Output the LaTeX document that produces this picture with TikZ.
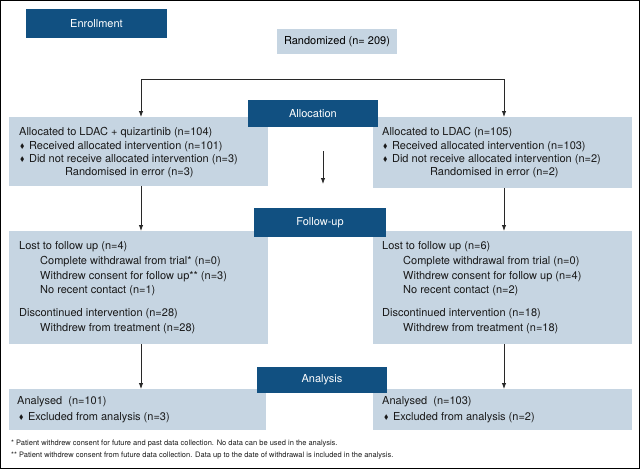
\documentclass[tikz,border=0pt]{standalone}
\usepackage{fontspec}
\usepackage{amssymb}
\usepackage{graphicx}
\setmainfont{TeX Gyre Heros}
\usetikzlibrary{arrows.meta}
\definecolor{hdrblue}{RGB}{17,80,129}
\definecolor{boxgrey}{RGB}{198,213,226}
\definecolor{linegrey}{RGB}{40,40,40}
\newcommand{\dia}{\raisebox{0.2ex}{\scalebox{0.6}{$\blacklozenge$}}\hspace{4.5pt}}
\tikzset{
  lbox/.style={fill=boxgrey, draw=none, inner sep=0pt, outer sep=0pt, anchor=north west},
  hbox/.style={fill=hdrblue, draw=none, inner sep=0pt, outer sep=0pt, text=white,
    font=\fontsize{11}{13}\selectfont},
  txt/.style={inner sep=0pt, anchor=west, font=\fontsize{11}{13}\selectfont, text=black!90},
  fnote/.style={inner sep=0pt, anchor=west, font=\fontsize{7.5}{9}\selectfont, text=black!90},
  arr/.style={draw=linegrey, line width=0.8pt, -{Latex[length=6pt,width=4.4pt]}},
  conn/.style={draw=linegrey, line width=0.8pt}
}
\begin{document}
\begin{tikzpicture}[x=1pt,y=-1pt]
\useasboundingbox (0,0) rectangle (640,469);
\fill[white] (0,0) rectangle (640,469);
\draw[line width=1.2pt] (0.6,0.6) rectangle (639.4,468.4);

% light boxes
\node[lbox, minimum width=120pt, minimum height=25pt] (rand) at (277,29) {};
\node[inner sep=0pt, font=\fontsize{11}{13}\selectfont] (randt) at (rand.center) {Randomized (n= 209)};

\node[lbox, minimum width=259pt, minimum height=69pt] (a1) at (9,117) {};
\node[lbox, minimum width=259pt, minimum height=71pt] (a2) at (373,117) {};
\node[lbox, minimum width=259pt, minimum height=113pt] (f1) at (9,231) {};
\node[lbox, minimum width=259pt, minimum height=113pt] (f2) at (373,231) {};
\node[lbox, minimum width=257pt, minimum height=41pt] (n1) at (9,389) {};
\node[lbox, minimum width=259pt, minimum height=41pt] (n2) at (373,389) {};

% header boxes
\node[hbox, minimum width=141pt, minimum height=29pt, anchor=north west] (enr) at (26,9) {Enrollment};
\node[hbox, minimum width=130pt, minimum height=27pt, anchor=north west] (alloc) at (248,100) {Allocation};
\node[hbox, minimum width=132pt, minimum height=29pt, anchor=north west] (fu) at (254,208) {Follow-up};
\node[hbox, minimum width=130pt, minimum height=26pt, anchor=north west] (ana) at (257,367) {Analysis};

% connectors
\coordinate (sl) at (141,79);
\coordinate (sr) at (504,79);
\coordinate (m1) at (323,151);
\coordinate (m2) at (323,184);
\draw[conn] (sl) -- (sr);
\draw[arr] (sl) -- (sl |- a1.north);
\draw[arr] (sr) -- (sr |- a2.north);
\draw[arr] (sl |- a1.south) -- (sl |- f1.north);
\draw[arr] (sr |- a2.south) -- (sr |- f2.north);
\draw[arr] (sl |- f1.south) -- (sl |- n1.north);
\draw[arr] (sr |- f2.south) -- (sr |- n2.north);
\draw[arr] (m1) -- (m2);

% allocation texts
\node[txt] (a1l1) at (19,133) {Allocated to LDAC + quizartinib (n=104)};
\node[txt] (a1l2) at (20,147) {\dia Received allocated intervention (n=101)};
\node[txt] (a1l3) at (20,160) {\dia Did not receive allocated intervention (n=3)};
\node[txt] (a1l4) at (65,173) {Randomised in error (n=3)};
\node[txt] (a2l1) at (382,133) {Allocated to LDAC (n=105)};
\node[txt] (a2l2) at (383,147) {\dia Received allocated intervention (n=103)};
\node[txt] (a2l3) at (383,160) {\dia Did not receive allocated intervention (n=2)};
\node[txt] (a2l4) at (430,173) {Randomised in error (n=2)};

% follow-up texts
\node[txt] (f1l1) at (19,247) {Lost to follow up (n=4)};
\node[txt] (f1l2) at (40,262) {Complete withdrawal from trial* (n=0)};
\node[txt] (f1l3) at (40,277) {Withdrew consent for follow up** (n=3)};
\node[txt] (f1l4) at (40,291) {No recent contact (n=1)};
\node[txt] (f1l5) at (19,314) {Discontinued intervention (n=28)};
\node[txt] (f1l6) at (40,329) {Withdrew from treatment (n=28)};
\node[txt] (f2l1) at (382,247) {Lost to follow up (n=6)};
\node[txt] (f2l2) at (403,262) {Complete withdrawal from trial (n=0)};
\node[txt] (f2l3) at (403,277) {Withdrew consent for follow up (n=4)};
\node[txt] (f2l4) at (403,291) {No recent contact (n=2)};
\node[txt] (f2l5) at (382,314) {Discontinued intervention (n=18)};
\node[txt] (f2l6) at (403,329) {Withdrew from treatment (n=18)};

% analysis texts
\node[txt] (n1l1) at (17,402) {Analysed\ \ (n=101)};
\node[txt] (n1l2) at (19,418) {\dia Excluded from analysis (n=3)};
\node[txt] (n2l1) at (382,402) {Analysed\ \ (n=103)};
\node[txt] (n2l2) at (384,418) {\dia Excluded from analysis (n=2)};

% footnotes
\node[fnote] (fn1) at (11,444) {* Patient withdrew consent for future and past data collection. No data can be used in the analysis.};
\node[fnote] (fn2) at (11,456) {** Patient withdrew consent from future data collection. Data up to the date of withdrawal is included in the analysis.};
\end{tikzpicture}
\end{document}
